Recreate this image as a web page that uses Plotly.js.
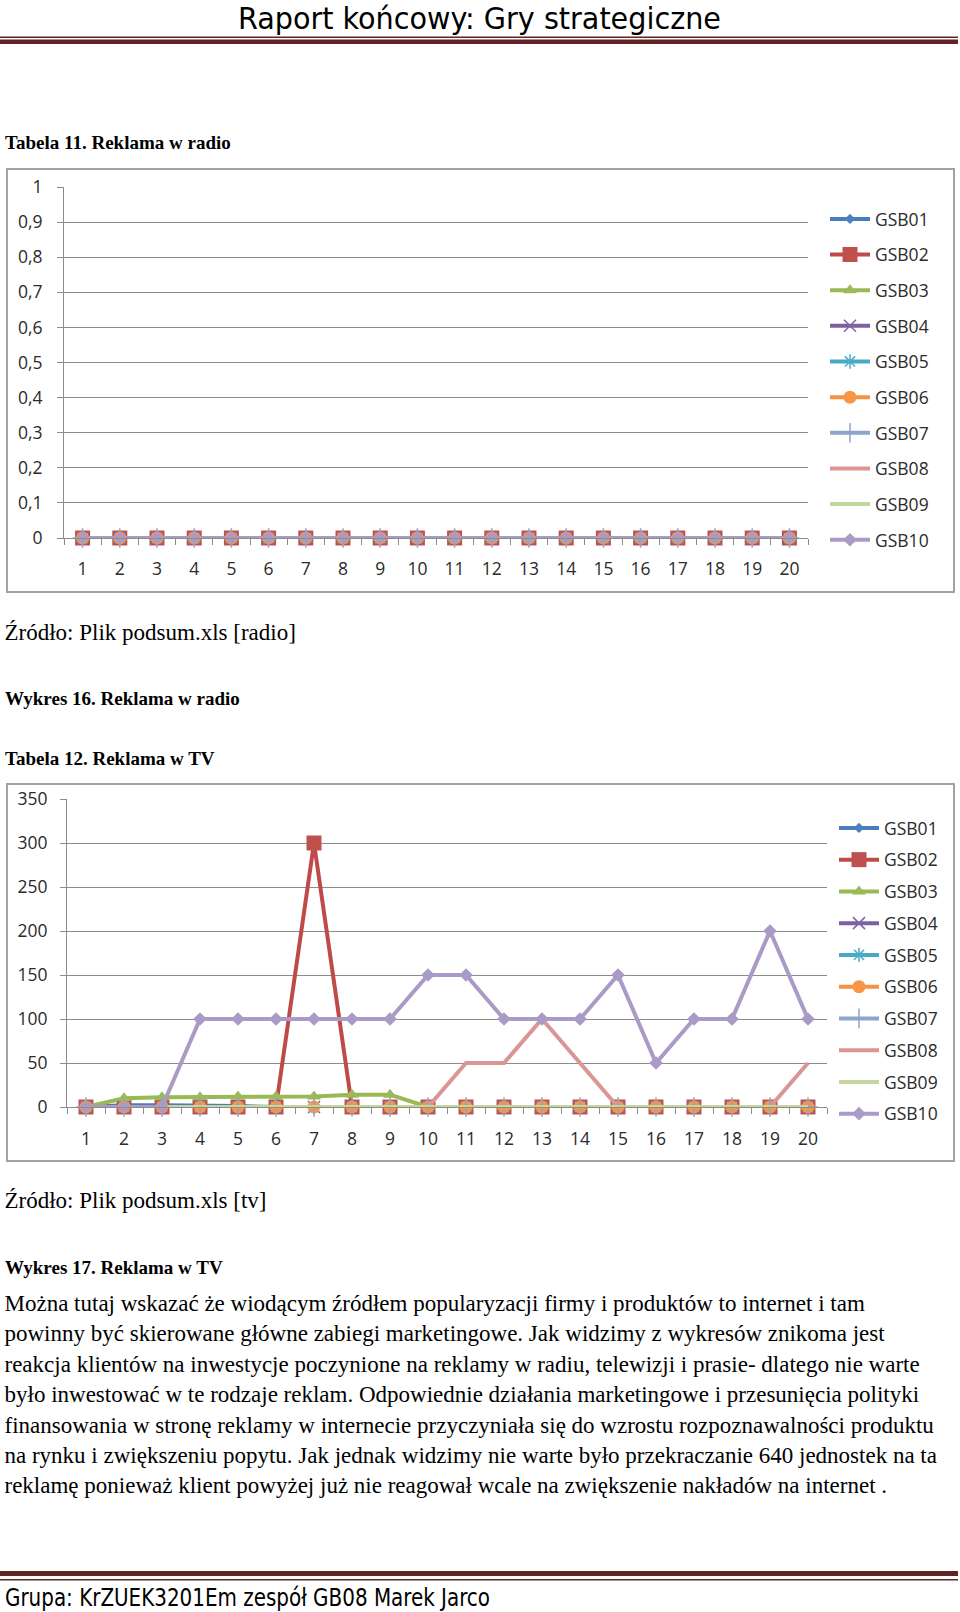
<!DOCTYPE html>
<html><head><meta charset="utf-8">
<script src="https://cdn.plot.ly/plotly-3.0.1.min.js"></script>
<style>
html,body{margin:0;padding:0;background:#fff;}
#page{position:relative;width:960px;height:1612px;overflow:hidden;background:#fff;}
.box{position:absolute;border:2px solid #a3a3a3;box-sizing:border-box;}
.chart{position:absolute;left:0;width:960px;}
svg.txt{position:absolute;left:0;top:0;}
.serif{font-family:"Liberation Serif","Times New Roman",serif;fill:#000;}
.bold{font-weight:bold;font-size:19px;}
.src{font-size:23px;}
.body{font-size:23px;}
.cond{font-family:"Liberation Sans Narrow","DejaVu Sans Condensed",sans-serif;fill:#000;}
</style></head><body>
<div id="page">
<svg class="txt" width="960" height="1612">
  <text class="cond" x="238" y="28.5" font-size="30" textLength="483" lengthAdjust="spacingAndGlyphs">Raport końcowy: Gry strategiczne</text>
  <rect x="0" y="36.5" width="958" height="1.5" fill="#622423"/>
  <rect x="0" y="39.5" width="958" height="4.5" fill="#622423"/>
  <text class="serif bold" x="5" y="149">Tabela 11. Reklama w radio</text>
  <text class="serif src" x="4.5" y="640">Źródło: Plik podsum.xls [radio]</text>
  <text class="serif bold" x="5" y="705">Wykres 16. Reklama w radio</text>
  <text class="serif bold" x="5" y="765">Tabela 12. Reklama w TV</text>
  <text class="serif src" x="4.5" y="1208">Źródło: Plik podsum.xls [tv]</text>
  <text class="serif bold" x="5" y="1274">Wykres 17. Reklama w TV</text>
  <text class="serif body" x="4.5" y="1311">Można tutaj wskazać że wiodącym źródłem popularyzacji firmy i produktów to internet i tam</text>
  <text class="serif body" x="4.5" y="1341.4">powinny być skierowane główne zabiegi marketingowe. Jak widzimy z wykresów znikoma jest</text>
  <text class="serif body" x="4.5" y="1371.8">reakcja klientów na inwestycje poczynione na reklamy w radiu, telewizji i prasie- dlatego nie warte</text>
  <text class="serif body" x="4.5" y="1402.2">było inwestować w te rodzaje reklam. Odpowiednie działania marketingowe i przesunięcia polityki</text>
  <text class="serif body" x="4.5" y="1432.6">finansowania w stronę reklamy w internecie przyczyniała się do wzrostu rozpoznawalności produktu</text>
  <text class="serif body" x="4.5" y="1463">na rynku i zwiększeniu popytu. Jak jednak widzimy nie warte było przekraczanie 640 jednostek na ta</text>
  <text class="serif body" x="4.5" y="1493.4">reklamę ponieważ klient powyżej już nie reagował wcale na zwiększenie nakładów na internet .</text>
  <rect x="0" y="1571" width="958" height="5" fill="#622423"/>
  <rect x="0" y="1579" width="958" height="1.5" fill="#622423"/>
  <text class="cond" x="5" y="1605.5" font-size="24.5" textLength="485" lengthAdjust="spacingAndGlyphs">Grupa: KrZUEK3201Em zespół GB08 Marek Jarco</text>
</svg>
<div class="box" style="left:6px;top:168px;width:949px;height:425px;"></div>
<div class="box" style="left:6px;top:783px;width:949px;height:379px;"></div>
<div id="chart1" class="chart" style="top:168px;height:425px;"></div>
<div id="chart2" class="chart" style="top:783px;height:379px;"></div>
</div>
<script>
// ---- data ----
const categories = ['1','2','3','4','5','6','7','8','9','10','11','12','13','14','15','16','17','18','19','20'];
const seriesNames = ['GSB01','GSB02','GSB03','GSB04','GSB05','GSB06','GSB07','GSB08','GSB09','GSB10'];

// Radio (Tabela 11)
const radioGSB01 = [0,0,0,0,0,0,0,0,0,0,0,0,0,0,0,0,0,0,0,0];
const radioGSB02 = [0,0,0,0,0,0,0,0,0,0,0,0,0,0,0,0,0,0,0,0];
const radioGSB03 = [0,0,0,0,0,0,0,0,0,0,0,0,0,0,0,0,0,0,0,0];
const radioGSB04 = [0,0,0,0,0,0,0,0,0,0,0,0,0,0,0,0,0,0,0,0];
const radioGSB05 = [0,0,0,0,0,0,0,0,0,0,0,0,0,0,0,0,0,0,0,0];
const radioGSB06 = [0,0,0,0,0,0,0,0,0,0,0,0,0,0,0,0,0,0,0,0];
const radioGSB07 = [0,0,0,0,0,0,0,0,0,0,0,0,0,0,0,0,0,0,0,0];
const radioGSB08 = [0,0,0,0,0,0,0,0,0,0,0,0,0,0,0,0,0,0,0,0];
const radioGSB09 = [0,0,0,0,0,0,0,0,0,0,0,0,0,0,0,0,0,0,0,0];
const radioGSB10 = [0,0,0,0,0,0,0,0,0,0,0,0,0,0,0,0,0,0,0,0];

// TV (Tabela 12)
const tvGSB01 = [0,2,2,2,1,0,0,0,0,0,0,0,0,0,0,0,0,0,0,0];
const tvGSB02 = [0,0,0,0,0,0,300,0,0,0,0,0,0,0,0,0,0,0,0,0];
const tvGSB03 = [0,10,11,11,12,12,12,14,14,0,0,0,0,0,0,0,0,0,0,0];
const tvGSB04 = [0,0,0,0,0,0,0,0,0,0,0,0,0,0,0,0,0,0,0,0];
const tvGSB05 = [0,0,0,0,0,0,0,0,0,0,0,0,0,0,0,0,0,0,0,0];
const tvGSB06 = [0,0,0,0,0,0,0,0,0,0,0,0,0,0,0,0,0,0,0,0];
const tvGSB07 = [0,0,0,0,0,0,0,0,0,0,0,0,0,0,0,0,0,0,0,0];
const tvGSB08 = [0,0,0,0,0,0,0,0,0,0,50,50,100,50,0,0,0,0,0,50];
const tvGSB09 = [0,0,0,0,0,0,0,0,0,0,0,0,0,0,0,0,0,0,0,0];
const tvGSB10 = [0,0,0,100,100,100,100,100,100,150,150,100,100,100,150,50,100,100,200,100];

const radioTickVals = [0,0.1,0.2,0.3,0.4,0.5,0.6,0.7,0.8,0.9,1];
const radioTickText = ['0','0,1','0,2','0,3','0,4','0,5','0,6','0,7','0,8','0,9','1'];
const tvTickVals = [0,50,100,150,200,250,300,350];
const tvTickText = ['0','50','100','150','200','250','300','350'];

// ---- styles ----
const styles = [
  {line:'#4A7EBB', color:'#4F81BD', symbol:'diamond', size:8},
  {line:'#BE4B48', color:'#C0504D', symbol:'square', size:15},
  {line:'#98B954', color:'#9BBB59', symbol:'triangle-up', size:12},
  {line:'#7D60A0', color:'#8064A2', symbol:'x-thin-open', size:12},
  {line:'#46AAC5', color:'#4BACC6', symbol:'asterisk-open', size:12},
  {line:'#F69240', color:'#F79646', symbol:'circle', size:13},
  {line:'#8EA5CB', color:'#8EA5CB', symbol:'cross-thin-open', size:14},
  {line:'#D99694', color:'#D99694', symbol:null, size:0},
  {line:'#C3D69B', color:'#C3D69B', symbol:null, size:0},
  {line:'#A99BC6', color:'#A99BC6', symbol:'diamond', size:10.5}
];

const FONT = {family:'Open Sans, sans-serif', size:17.5, color:'#2b2b2b'};
const GRID = '#8c8c8c';

function makeTraces(arrays){
  return seriesNames.map((name,i)=>{
    const s = styles[i];
    const open = s.symbol && s.symbol.indexOf('open')>=0;
    const t = {
      type:'scatter', x:categories, y:arrays[i], name:name, legendgroup:name,
      mode: s.symbol ? 'lines+markers' : 'lines',
      line:{color:s.line, width:4},
      cliponaxis:false, hoverinfo:'skip'
    };
    if (s.symbol) {
      t.marker = {symbol:s.symbol, size:s.size, color:s.color,
        line: open ? {color:s.color, width:1.5} : {width:0}};
    }
    return t;
  });
}

function makeLayout(opts){
  return {
    width:960, height:opts.h,
    margin:{l:opts.l, r:opts.r, t:opts.t, b:opts.b, pad:0},
    paper_bgcolor:'rgba(0,0,0,0)', plot_bgcolor:'rgba(0,0,0,0)',
    font:FONT,
    showlegend:true,
    legend:{xref:'container', yref:'container', x:opts.lx, y:opts.ly, xanchor:'left', yanchor:'top',
      font:FONT, tracegroupgap:opts.gap, traceorder:'grouped', bgcolor:'rgba(0,0,0,0)', borderwidth:0,
      maxheight:1, itemwidth:40},
    xaxis:{type:'category', range:[-0.5,19.5], tickson:'boundaries', ticks:'outside', ticklen:6,
      tickcolor:GRID, tickwidth:1, showline:true, linecolor:GRID, linewidth:1, showgrid:false, zeroline:false,
      tickfont:FONT, ticklabelstandoff:opts.xs, fixedrange:true},
    yaxis:{range:opts.yr, tickmode:'array', tickvals:opts.tv, ticktext:opts.tt, ticks:'outside', ticklen:6,
      tickcolor:GRID, tickwidth:1, showline:true, linecolor:GRID, linewidth:1, showgrid:true, gridcolor:GRID,
      gridwidth:1, zeroline:false, tickfont:FONT, ticklabelstandoff:opts.ys, fixedrange:true}
  };
}

const radioData = [radioGSB01,radioGSB02,radioGSB03,radioGSB04,radioGSB05,radioGSB06,radioGSB07,radioGSB08,radioGSB09,radioGSB10];
const tvData = [tvGSB01,tvGSB02,tvGSB03,tvGSB04,tvGSB05,tvGSB06,tvGSB07,tvGSB08,tvGSB09,tvGSB10];

Plotly.newPlot('chart1', makeTraces(radioData), makeLayout({
  h:425, l:63.5, r:152, t:18.7, b:55, yr:[0,1], tv:radioTickVals, tt:radioTickText,
  lx:825/960, ly:1-33/425, gap:9.9, xs:15, ys:11
}), {displayModeBar:false, staticPlot:true});

Plotly.newPlot('chart2', makeTraces(tvData), makeLayout({
  h:379, l:66.7, r:133.3, t:16, b:54.7, yr:[0,350], tv:tvTickVals, tt:tvTickText,
  lx:834/960, ly:1-27/379, gap:6.0, xs:16, ys:9
}), {displayModeBar:false, staticPlot:true});
</script>
</body></html>
